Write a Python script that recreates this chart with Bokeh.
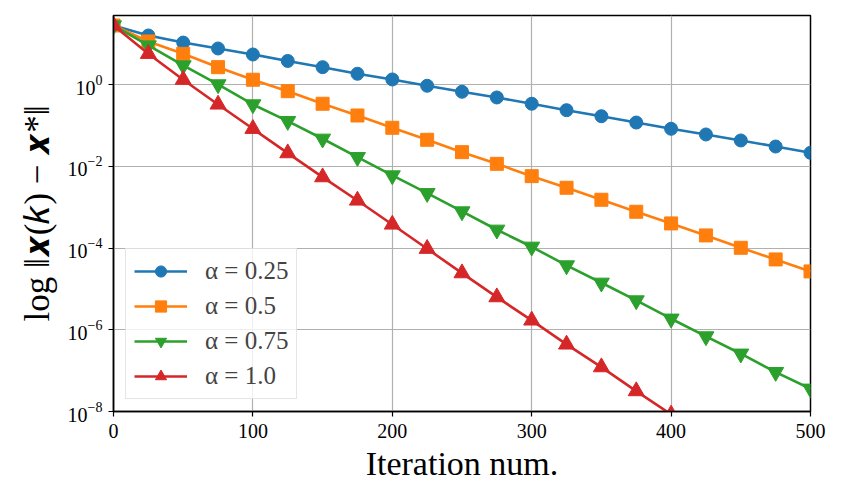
from bokeh.plotting import figure
from bokeh.models import Range1d, FixedTicker, Legend, LegendItem
from bokeh.embed import file_html
from bokeh.resources import INLINE

# Iteration index at which the error is sampled
iterations = [0, 25, 50, 75, 100, 125, 150, 175, 200, 225, 250,
              275, 300, 325, 350, 375, 400, 425, 450, 475, 500]

# Distance to the optimum ||x(k) - x*|| for each step size alpha
err_a025 = [28.3, 16.1, 10.8, 7.74, 5.52, 3.83, 2.70, 1.86, 1.35, 0.946, 0.675,
            0.489, 0.343, 0.239, 0.170, 0.119, 0.0837, 0.0607, 0.0433, 0.0308, 0.0216]
err_a05 = [28.3, 11.5, 5.74, 2.70, 1.33, 0.697, 0.343, 0.177, 0.0886, 0.0450, 0.0224,
           0.0116, 0.00579, 0.00301, 0.00153, 7.78e-4, 4.03e-4, 2.05e-4, 1.02e-4, 5.29e-5, 2.69e-5]
err_a075 = [28.3, 9.16, 2.97, 1.02, 0.330, 0.129, 0.0477, 0.0169, 0.00602, 0.00222, 7.91e-4,
            2.82e-4, 1.08e-4, 3.77e-5, 1.42e-5, 5.24e-6, 1.87e-6, 6.89e-7, 2.60e-7, 9.21e-8, 3.61e-8]
iterations_a1 = [0, 25, 50, 75, 100, 125, 150, 175, 200, 225, 250,
                 275, 300, 325, 350, 375, 400]
err_a1 = [28.3, 5.74, 1.33, 0.330, 0.0837, 0.0212, 0.00547, 0.00147, 3.80e-4, 9.67e-5, 2.44e-5,
          6.31e-6, 1.70e-6, 4.39e-7, 1.22e-7, 3.16e-8, 8.5e-9]

labels = ["α = 0.25", "α = 0.5", "α = 0.75", "α = 1.0"]
x_ticks = [0, 100, 200, 300, 400, 500]
y_ticks = [1e-8, 1e-6, 1e-4, 1e-2, 1e0]

FONT = "Liberation Serif"

p = figure(width=842, height=498, output_backend="svg", toolbar_location=None,
           y_axis_type="log",
           x_range=Range1d(0, 500), y_range=Range1d(1e-8, 49.7),
           min_border_left=113, min_border_right=32,
           min_border_top=15, min_border_bottom=87)

p.background_fill_color = "white"
p.border_fill_color = "white"
p.outline_line_color = "black"
p.outline_line_width = 1.5

# grid
p.xgrid.grid_line_color = "#b0b0b0"
p.ygrid.grid_line_color = "#b0b0b0"
p.xgrid.grid_line_width = 1.2
p.ygrid.grid_line_width = 1.2

# axes
p.xaxis.ticker = FixedTicker(ticks=x_ticks)
p.yaxis.ticker = FixedTicker(ticks=y_ticks)
for ax in (p.xaxis[0], p.yaxis[0]):
    ax.axis_line_color = "black"
    ax.axis_line_width = 1.5
    ax.major_tick_line_color = "black"
    ax.major_tick_line_width = 1.2
    ax.major_tick_out = 5
    ax.major_tick_in = 0
    ax.minor_tick_line_color = None
    ax.major_label_text_font = FONT
    ax.major_label_text_font_size = "20px"
    ax.major_label_text_color = "black"
    ax.axis_label_text_font = FONT
    ax.axis_label_text_font_style = "normal"
    ax.axis_label_text_color = "black"

p.xaxis.axis_label = "Iteration num."
p.xaxis.axis_label_text_font_size = "34px"
p.xaxis.major_label_standoff = 7
p.xaxis.axis_label_standoff = 4

p.yaxis.axis_label = "log ‖𝒙(𝑘) − 𝒙*‖"
p.yaxis.axis_label_text_font_size = "35px"
p.yaxis.major_label_standoff = 6
p.yaxis.axis_label_standoff = 8

series = [
    (iterations, err_a025, "#1f77b4", "circle", 13),
    (iterations, err_a05, "#ff7f0e", "square", 13),
    (iterations, err_a075, "#2ca02c", "inverted_triangle", 16),
    (iterations_a1, err_a1, "#d62728", "triangle", 16),
]

items = []
for (xs, ys, color, marker, size), label in zip(series, labels):
    ln = p.line(xs, ys, line_color=color, line_width=2.6)
    sc = p.scatter(xs, ys, marker=marker, size=size,
                   fill_color=color, line_color=color)
    items.append(LegendItem(label=label, renderers=[ln, sc]))

legend = Legend(items=items, location="bottom_left")
legend.margin = 12
legend.padding = 8
legend.spacing = 7
legend.glyph_width = 53
legend.glyph_height = 28
legend.label_standoff = 18
legend.label_text_font = FONT
legend.label_text_font_size = "25px"
legend.label_height = 28
legend.background_fill_color = "white"
legend.background_fill_alpha = 0.8
legend.border_line_color = "#cccccc"
legend.border_line_width = 1.2
p.add_layout(legend, "center")

open("out.html", "w").write(file_html(p, INLINE))
